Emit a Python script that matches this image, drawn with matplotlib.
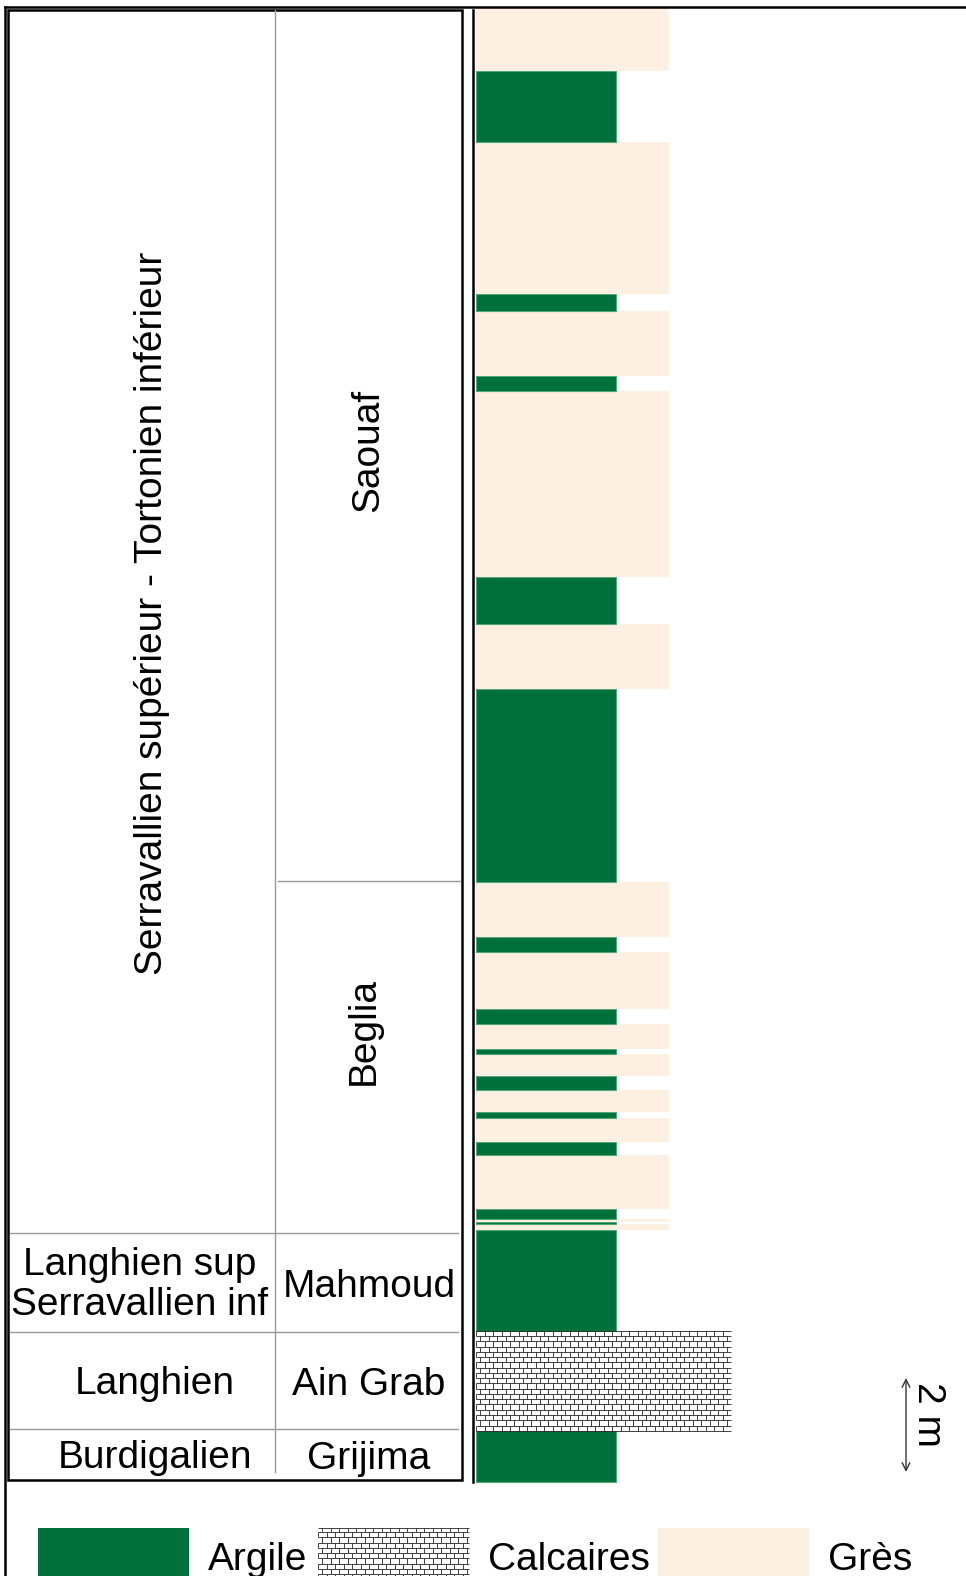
import numpy as np
import matplotlib.pyplot as plt
from matplotlib.collections import LineCollection
from matplotlib.patches import Rectangle

plt.rcParams['font.family'] = ['Liberation Sans', 'DejaVu Sans']

# lithological log, from the base upward (thickness in m)
litho = ["Argile", "Calcaires", "Argile",
         "Grès", "Argile", "Grès", "Argile", "Grès", "Argile", "Grès",
         "Argile", "Grès", "Argile", "Grès", "Argile", "Grès", "Argile",
         "Grès", "Argile", "Grès", "Argile", "Grès", "Argile", "Grès",
         "Argile", "Grès", "Argile", "Grès", "Argile", "Grès"]
thickness = [1.09, 2.12, 2.15,
             0.13, 0.04, 0.07, 0.21, 1.15, 0.27, 0.51,
             0.13, 0.47, 0.30, 0.47, 0.10, 0.53, 0.32,
             1.22, 0.32, 1.17, 4.10, 1.39, 1.00, 3.95,
             0.32, 1.38, 0.37, 3.23, 1.51, 1.34]

# stages and formations (top of each unit, m)
stage_names = ["Burdigalien", "Langhien", "Langhien sup\nSerravallien inf",
               "Serravallien supérieur - Tortonien inférieur"]
stage_tops = [1.13, 3.19, 5.30, 31.32]
formation_names = ["Grijima", "Ain Grab", "Mahmoud", "Beglia", "Saouaf"]
formation_tops = [1.13, 3.19, 5.30, 12.79, 31.32]
table_base = 0.04

colors = {"Argile": "#00703A", "Grès": "#FDEFE2", "Calcaires": "white"}
bar_len = {"Argile": 140, "Grès": 193, "Calcaires": 255}

# page layout: x in pixels, y in metres
PX_M = 47.0
BASE = 1482


def m(ypx):
    return (BASE - ypx) / PX_M


def bricks(ax, x0, x1, y0, y1, row=0.112, brick=8.5):
    segs = []
    ys = np.arange(y0, y1, row)
    for i, yb in enumerate(ys):
        top = min(yb + row, y1)
        segs.append([(x0, yb), (x1, yb)])
        off = 0 if i % 2 == 0 else brick / 2
        for xv in np.arange(x0 + off, x1, brick):
            segs.append([(xv, yb), (xv, top)])
    segs.append([(x0, y1), (x1, y1)])
    ax.add_collection(LineCollection(segs, colors="#222222", linewidths=0.6))


fig = plt.figure(figsize=(9.66, 15.76), dpi=100)
ax = fig.add_axes([0, 0, 1, 1])
ax.set_xlim(0, 966)
ax.set_ylim(m(1576), m(0))
ax.axis("off")

# lithology column
bottoms = np.concatenate([[0], np.cumsum(thickness)[:-1]])
col_left = 476
for lt, b, t in zip(litho, bottoms, thickness):
    ec = "#4FA876" if lt == "Argile" else "none"
    ax.barh(b, bar_len[lt], height=t, left=col_left, align="edge",
            color=colors[lt], edgecolor=ec, linewidth=0.8)
    if lt == "Calcaires":
        bricks(ax, col_left, col_left + bar_len[lt], b, b + t)

ax.plot([473, 473], [0, m(10)], color="black", lw=1.8)

# outer frame
ax.plot([5, 5], [m(1576), m(7)], color="black", lw=1.8)
ax.plot([5, 966], [m(7), m(7)], color="black", lw=1.8)

# table
ax.add_patch(Rectangle((8, table_base), 462 - 8, stage_tops[-1] - table_base,
                       fill=False, edgecolor="black", lw=1.8))
ax.plot([275, 275], [m(1472), stage_tops[-1]], color="#999999", lw=1.0)
for top in stage_tops[:-1]:
    ax.plot([10, 458], [top, top], color="#999999", lw=1.0)
for top in formation_tops[:-1]:
    if top not in stage_tops:
        ax.plot([278, 460], [top, top], color="#999999", lw=1.0)

fs = 28
lows = [table_base] + stage_tops[:-1]
for name, lo, hi in zip(stage_names, lows, stage_tops):
    mid = (lo + hi) / 2
    if hi == stage_tops[-1]:
        ax.text(152, mid + 0.17, name, rotation=90, ha="center", va="center", fontsize=fs)
    elif "\n" in name:
        ax.text(140, mid - 0.05, name, ha="center", va="center", fontsize=fs,
                linespacing=1.12)
    else:
        ax.text(155, mid - 0.07, name, ha="center", va="center", fontsize=fs)

lows = [table_base] + formation_tops[:-1]
for name, lo, hi in zip(formation_names, lows, formation_tops):
    mid = (lo + hi) / 2
    if name == "Beglia":
        ax.text(364, mid + 0.55, name, rotation=90, ha="center", va="center", fontsize=fs)
    elif hi - lo > 5:
        ax.text(368, mid - 0.1, name, rotation=90, ha="center", va="center", fontsize=fs)
    else:
        ax.text(369, mid - 0.1, name, ha="center", va="center", fontsize=fs)

# scale bar
ax.annotate("", xy=(906, m(1472)), xytext=(906, m(1378)),
            arrowprops=dict(arrowstyle="<->", color="#333333", lw=1.0,
                            mutation_scale=14, shrinkA=0, shrinkB=0))
ax.text(928, m(1414), "2 m", rotation=270, ha="center", va="center", fontsize=fs)

# legend
leg_x = [38, 318, 658]
leg_names = ["Argile", "Calcaires", "Grès"]
for x0, name in zip(leg_x, leg_names):
    ax.add_patch(Rectangle((x0, m(1590)), 151, m(1528) - m(1590),
                           facecolor=colors[name], edgecolor="none"))
    if name == "Calcaires":
        bricks(ax, x0, x0 + 151, m(1590), m(1528))
    ax.text(x0 + 170, m(1570), name, ha="left", va="baseline", fontsize=fs)

fig.savefig("out.png", dpi=100)
